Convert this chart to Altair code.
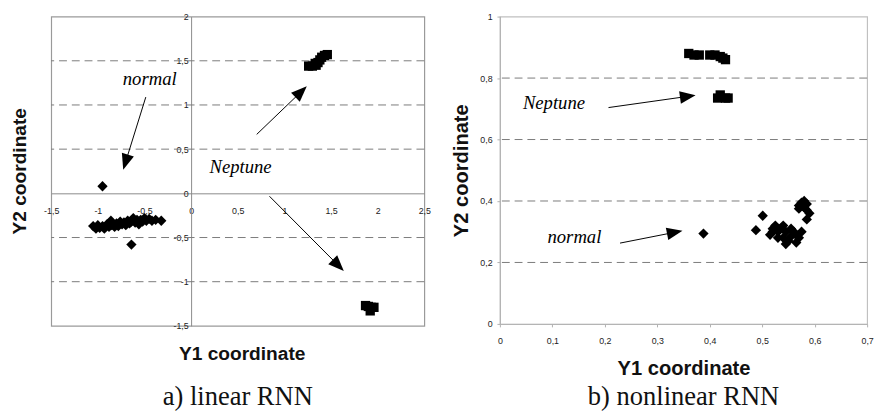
import altair as alt
import pandas as pd
import numpy as np

# ---------------- data: a) linear RNN ----------------
lin_normal_x = [-0.95, -0.64,
                -1.05, -1.02, -1.0, -0.98, -0.95, -0.93, -0.9, -0.88, -0.86, -0.85, -0.82, -0.8,
                -0.78, -0.76, -0.74, -0.72, -0.7, -0.68, -0.66, -0.64, -0.62, -0.6, -0.58, -0.56,
                -0.54, -0.52, -0.5, -0.48, -0.45, -0.42, -0.38, -0.32]
lin_normal_y = [0.08, -0.58,
                -0.37, -0.40, -0.36, -0.39, -0.37, -0.40, -0.35, -0.38, -0.31, -0.36, -0.38, -0.34,
                -0.37, -0.32, -0.35, -0.33, -0.36, -0.31, -0.34, -0.32, -0.28, -0.33, -0.30, -0.35,
                -0.30, -0.32, -0.28, -0.31, -0.29, -0.31, -0.30, -0.31]
lin_nep_x = [1.26, 1.30, 1.34, 1.33, 1.36, 1.38, 1.40, 1.43, 1.46,
             1.87, 1.90, 1.93, 1.96, 1.92]
lin_nep_y = [1.44, 1.44, 1.45, 1.47, 1.48, 1.51, 1.54, 1.56, 1.57,
             -1.27, -1.28, -1.29, -1.29, -1.33]
lin_grid = [1.5, 1.0, 0.5, -0.5, -1.0]
lin_xticks = [-1.5, -1, -0.5, 0, 0.5, 1, 1.5, 2, 2.5]
lin_yticks = [-1.5, -1, -0.5, 0, 0.5, 1, 1.5, 2]
lin_xdom = [-1.5, 2.5]
lin_ydom = [-1.5, 2.0]
# annotations (data units)
lin_arrow_x1 = [-0.486, 0.703, 0.84]
lin_arrow_y1 = [1.089, 0.667, -0.033]
lin_arrow_x2 = [-0.728, 1.24, 1.637]
lin_arrow_y2 = [0.267, 1.211, -0.878]
lin_text = ["normal", "Neptune"]
lin_text_x = [-0.444, 0.53]
lin_text_y = [1.289, 0.30]

# ---------------- data: b) nonlinear RNN ----------------
nl_normal_x = [0.388, 0.501, 0.488,
               0.515, 0.52, 0.525, 0.53, 0.535, 0.54, 0.54, 0.545, 0.55, 0.545, 0.555, 0.56,
               0.565, 0.57, 0.565, 0.555, 0.53, 0.52, 0.575,
               0.57, 0.575, 0.58, 0.585, 0.57, 0.585, 0.59, 0.585, 0.58]
nl_normal_y = [0.294, 0.352, 0.305,
               0.29, 0.31, 0.32, 0.30, 0.31, 0.32, 0.28, 0.30, 0.27, 0.26, 0.31, 0.30,
               0.29, 0.28, 0.265, 0.285, 0.28, 0.30, 0.30,
               0.385, 0.395, 0.40, 0.39, 0.375, 0.37, 0.36, 0.34, 0.38]
nl_nep_x = [0.36, 0.37, 0.38, 0.40, 0.41, 0.42, 0.425, 0.43,
            0.415, 0.42, 0.43, 0.435]
nl_nep_y = [0.88, 0.875, 0.875, 0.875, 0.875, 0.87, 0.865, 0.86,
            0.735, 0.745, 0.735, 0.735]
nl_grid = [0.2, 0.4, 0.6, 0.8]
nl_xticks = [0, 0.1, 0.2, 0.3, 0.4, 0.5, 0.6, 0.7]
nl_yticks = [0, 0.2, 0.4, 0.6, 0.8, 1.0]
nl_xdom = [0.0, 0.7]
nl_ydom = [0.0, 1.0]
nl_arrow_x1 = [0.207, 0.229]
nl_arrow_y1 = [0.704, 0.263]
nl_arrow_x2 = [0.373, 0.348]
nl_arrow_y2 = [0.744, 0.303]
nl_text = ["Neptune", "normal"]
nl_text_x = [0.103, 0.142]
nl_text_y = [0.719, 0.284]

W1, H1 = 380, 315
W2, H2 = 374, 313

LABEL_EXPR = "replace(toString(datum.value), '.', ',')"
SANS = "Liberation Sans"
SERIF = "Liberation Serif"
HEAD_PATH = "M0,-1L0.8,1L-0.8,1Z"
HEAD_SIZE = 256
HEAD_HALF = 8.0


def arrows(x1, y1, x2, y2, kx, ky):
    """Build arrow shafts and heads; head center is pulled back from the tip."""
    rows = []
    for a, b, c, d in zip(x1, y1, x2, y2):
        dxp = (c - a) * kx
        dyp = -(d - b) * ky
        L = np.hypot(dxp, dyp)
        ux, uy = dxp / L, dyp / L
        hx = c - ux * HEAD_HALF / kx
        hy = d + uy * HEAD_HALF / ky
        ang = float(np.degrees(np.arctan2(dxp, -dyp))) % 360
        rows.append(dict(x1=a, y1=b, hx=hx, hy=hy, ang=ang))
    return pd.DataFrame(rows)


def panel(nx, ny, px, py, grid, xt, yt, xdom, ydom, ax1, ay1, ax2, ay2,
          tx, ty, tt, W, H, crossing, frame, caption, cap_offset, title_size):
    xs = alt.Scale(domain=xdom, nice=False, zero=False)
    ys = alt.Scale(domain=ydom, nice=False, zero=False)
    kx = W / (xdom[1] - xdom[0])
    ky = H / (ydom[1] - ydom[0])

    if crossing:
        xoff = -H * (0 - ydom[0]) / (ydom[1] - ydom[0])
        yoff = -W * (0 - xdom[0]) / (xdom[1] - xdom[0])
        xaxis = alt.Axis(values=xt, labelExpr=LABEL_EXPR, offset=xoff, grid=False,
                         domainColor="#8a8a8a", ticks=False, labelPadding=14,
                         labelFont=SANS, labelFontSize=9, labelColor="#222",
                         labelFlush=False, labelOverlap=False,
                         title="Y1 coordinate", titleFont=SANS, titleFontSize=title_size,
                         titleFontWeight="bold", titleColor="#111",
                         titleX=194, titleY=163, titleAlign="center", titleBaseline="middle")
        yaxis = alt.Axis(values=yt, labelExpr=LABEL_EXPR, offset=yoff, grid=False,
                         domainColor="#8a8a8a", ticks=False, labelPadding=3,
                         labelFont=SANS, labelFontSize=9, labelColor="#222",
                         labelFlush=False, labelOverlap=False,
                         title="Y2 coordinate", titleFont=SANS, titleFontSize=title_size,
                         titleFontWeight="bold", titleColor="#111",
                         titleX=-175, titleY=157, titleAngle=270,
                         titleAlign="center", titleBaseline="middle")
    else:
        xaxis = alt.Axis(values=xt, labelExpr=LABEL_EXPR, grid=False,
                         domainColor="#b0b0b0", tickColor="#b0b0b0", tickSize=3,
                         labelPadding=10, labelFont=SANS, labelFontSize=9, labelColor="#222",
                         labelFlush=False, labelOverlap=False,
                         title="Y1 coordinate", titleFont=SANS, titleFontSize=title_size,
                         titleFontWeight="bold", titleColor="#111", titlePadding=14)
        yaxis = alt.Axis(values=yt, labelExpr=LABEL_EXPR, grid=False,
                         domainColor="#b0b0b0", tickColor="#b0b0b0", tickSize=3,
                         labelPadding=5, labelFont=SANS, labelFontSize=9, labelColor="#222",
                         labelFlush=False, labelOverlap=False,
                         title="Y2 coordinate", titleFont=SANS, titleFontSize=title_size,
                         titleFontWeight="bold", titleColor="#111", titlePadding=8)

    def X(field):
        return alt.X(field, scale=xs, axis=xaxis)

    def Y(field):
        return alt.Y(field, scale=ys, axis=yaxis)

    gdf = pd.DataFrame({"g": grid})
    gridl = alt.Chart(gdf).mark_rule(color="#7a7a7a", strokeDash=[8, 5], strokeWidth=1).encode(
        y=Y("g:Q"))

    ndf = pd.DataFrame({"x": nx, "y": ny})
    normal = alt.Chart(ndf).mark_point(shape="diamond", filled=True, color="black",
                                       opacity=1, size=110).encode(x=X("x:Q"), y=Y("y:Q"))

    pdf = pd.DataFrame({"x": px, "y": py})
    nep = alt.Chart(pdf).mark_point(shape="square", filled=True, color="black",
                                    opacity=1, size=90).encode(x=X("x:Q"), y=Y("y:Q"))

    adf = arrows(ax1, ay1, ax2, ay2, kx, ky)
    shafts = alt.Chart(adf).mark_rule(color="black", strokeWidth=1).encode(
        x=X("x1:Q"), y=Y("y1:Q"), x2="hx:Q", y2="hy:Q")
    heads = alt.Chart(adf).mark_point(shape=HEAD_PATH, filled=True, color="black",
                                      opacity=1, size=HEAD_SIZE).encode(
        x=X("hx:Q"), y=Y("hy:Q"), angle=alt.Angle("ang:Q", scale=None))

    tdf = pd.DataFrame({"x": tx, "y": ty, "t": tt})
    texts = alt.Chart(tdf).mark_text(font=SERIF, fontStyle="italic", fontSize=19,
                                     color="black").encode(
        x=X("x:Q"), y=Y("y:Q"), text="t:N")

    return alt.layer(gridl, normal, nep, shafts, heads, texts).properties(
        width=W, height=H,
        view=alt.ViewBackground(stroke=frame, strokeWidth=1.2),
        title=alt.TitleParams(caption, orient="bottom", anchor="middle", font=SERIF,
                              fontSize=27, fontWeight="normal", color="#111",
                              offset=cap_offset))


left = panel(lin_normal_x, lin_normal_y, lin_nep_x, lin_nep_y, lin_grid, lin_xticks,
             lin_yticks, lin_xdom, lin_ydom, lin_arrow_x1, lin_arrow_y1, lin_arrow_x2,
             lin_arrow_y2, lin_text_x, lin_text_y, lin_text, W1, H1, True, "#9a9a9a",
             "a) linear RNN", 22, 19.5)
right = panel(nl_normal_x, nl_normal_y, nl_nep_x, nl_nep_y, nl_grid, nl_xticks, nl_yticks,
              nl_xdom, nl_ydom, nl_arrow_x1, nl_arrow_y1, nl_arrow_x2, nl_arrow_y2,
              nl_text_x, nl_text_y, nl_text, W2, H2, False, "#c0c0c0",
              "b) nonlinear RNN", 5, 20.5)

chart = alt.hconcat(left, right, spacing=20).properties(
    padding={"left": 0, "top": 0, "right": 0, "bottom": 0},
    background="white")

chart.save("out.html", embed_options={"renderer": "svg", "actions": False})
